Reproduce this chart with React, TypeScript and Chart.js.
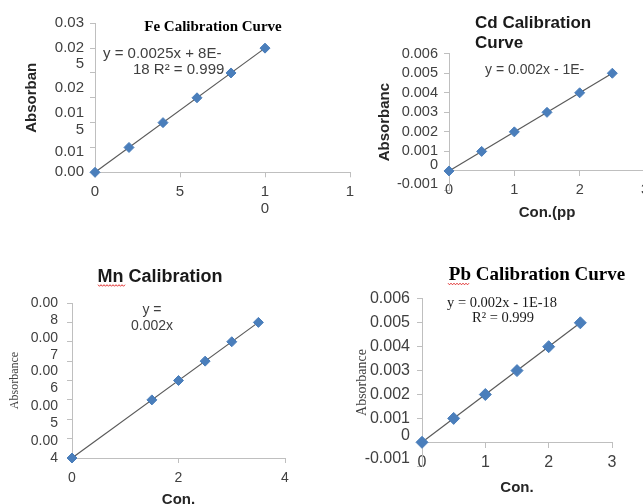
import React, { useEffect, useRef } from 'react';
import { Chart, registerables } from 'chart.js';

Chart.register(...registerables);

// ---------------- data ----------------
// Fe
const feConc = [0, 2, 4, 6, 8, 10];
const feAbs = [0, 0.005, 0.01, 0.015, 0.02, 0.025];
const feTrendX = [0, 10];
const feTrendY = [0, 0.025];
const feYMarks = [0, 0.005, 0.01, 0.015, 0.02, 0.025, 0.03];
const feYLabelAt = [0.03, 0.02342, 0.01697, 0.01023, 0.00409, 0];
const feYLabels: (string | string[])[] = ['0.03', ['0.02', '5'], '0.02', ['0.01', '5'], '0.01', '0.00'];
const feXMarks = [0, 5, 10, 15];
const feXLabels: (string | string[])[] = ['0', '5', ['1', '0'], '1'];

// Cd
const cdConc = [0, 0.5, 1, 1.5, 2, 2.5];
const cdAbs = [0, 0.001, 0.002, 0.003, 0.004, 0.005];
const cdTrendX = [0, 2.5];
const cdTrendY = [0, 0.005];
const cdYMarks = [-0.001, 0, 0.001, 0.002, 0.003, 0.004, 0.005, 0.006];
const cdYLabelAt = [0.006, 0.005, 0.004, 0.003, 0.002, 0.001, 0.00032, -0.00065];
const cdYLabels: (string | string[])[] = ['0.006', '0.005', '0.004', '0.003', '0.002', '0.001', '0', '-0.001'];
const cdXMarks = [0, 1, 2, 3];
const cdXLabels: (string | string[])[] = ['0', '1', '2', '3'];

// Mn
const mnConc = [0, 1.5, 2, 2.5, 3, 3.5];
const mnAbs = [0, 0.003, 0.004, 0.005, 0.006, 0.007];
const mnTrendX = [0, 3.5];
const mnTrendY = [0, 0.007];
const mnYMarks = [0, 0.001, 0.002, 0.003, 0.004, 0.005, 0.006, 0.007, 0.008];
const mnYLabelAt = [0.007535, 0.005729, 0.004026, 0.002219, 0.000413];
const mnYLabels: (string | string[])[] = [['0.00', '8'], ['0.00', '7'], ['0.00', '6'], ['0.00', '5'], ['0.00', '4']];
const mnXMarks = [0, 2, 4];
const mnXLabels: (string | string[])[] = ['0', '2', '4'];

// Pb
const pbConc = [0, 0.5, 1, 1.5, 2, 2.5];
const pbAbs = [0, 0.001, 0.002, 0.003, 0.004, 0.005];
const pbTrendX = [0, 2.5];
const pbTrendY = [0, 0.005];
const pbYMarks = [-0.001, 0, 0.001, 0.002, 0.003, 0.004, 0.005, 0.006];
const pbYLabelAt = [0.006, 0.005, 0.004, 0.003, 0.002, 0.001, 0.000264, -0.0007];
const pbYLabels: (string | string[])[] = ['0.006', '0.005', '0.004', '0.003', '0.002', '0.001', '0', '-0.001'];
const pbXMarks = [0, 1, 2, 3];
const pbXLabels: (string | string[])[] = ['0', '1', '2', '3'];

// ---------------- styles ----------------
const AXIS = '#bfbfbf';
const TICKC = '#404040';
const POINT = '#4a7ebb';
const LINE = '#5a5a5a';
const SANS = '"Liberation Sans", Arial, sans-serif';
const SERIF = '"Liberation Serif", "Times New Roman", serif';
const CW = 660;
const CH = 504;

type TickDef = { value: number; txt: string | string[]; mark: boolean };

function buildTicks(marks: number[], labelAt: number[], labels: (string | string[])[]): TickDef[] {
  const out: TickDef[] = marks.map((v) => ({ value: v, txt: '', mark: true }));
  labelAt.forEach((v, i) => {
    const same = out.find((t) => t.mark && Math.abs(t.value - v) < 1e-12 && t.txt === '');
    if (same) same.txt = labels[i];
    else out.push({ value: v, txt: labels[i], mark: false });
  });
  return out.sort((a, b) => a.value - b.value);
}

function scaleFor(s: any) {
  const list = buildTicks(s.marks, s.labelAt, s.labels);
  const o: any = {
    type: 'linear',
    min: s.min,
    max: s.max,
    afterBuildTicks: (sc: any) => {
      sc.ticks = list.map((t) => ({ ...t }));
    },
    ticks: {
      autoSkip: false,
      maxRotation: 0,
      minRotation: 0,
      padding: s.pad,
      color: TICKC,
      font: { family: SANS, size: s.fs, lineHeight: s.lh },
      callback: (_v: any, i: number, arr: any[]) => arr[i].txt,
    },
    grid: {
      drawOnChartArea: false,
      drawTicks: true,
      tickLength: 5,
      tickWidth: 1,
      tickColor: (c: any) => (c.tick && c.tick.mark ? AXIS : 'rgba(0,0,0,0)'),
    },
    border: { display: true, color: AXIS, width: 1 },
  };
  if (s.position) o.position = s.position;
  if (s.size != null) {
    o.afterFit = s.horizontal
      ? (sc: any) => {
          sc.height = s.size;
        }
      : (sc: any) => {
          sc.width = s.size;
        };
  }
  if (s.title) {
    o.title = {
      display: true,
      text: s.title.text,
      color: s.title.color || '#262626',
      font: s.title.font,
      padding: s.title.padding,
    };
  }
  return o;
}

const panelText = {
  id: 'panelText',
  afterDatasetsDraw(chart: any, _args: any, opts: any) {
    const items = (opts && opts.items) || [];
    const ctx = chart.ctx;
    ctx.save();
    for (const it of items) {
      if (it.squiggle) {
        ctx.strokeStyle = '#e03030';
        ctx.lineWidth = 1;
        ctx.beginPath();
        let up = true;
        for (let x = it.x1; x <= it.x2; x += 1.5) {
          const y = it.y + (up ? -0.8 : 0.8);
          if (x === it.x1) ctx.moveTo(x, y);
          else ctx.lineTo(x, y);
          up = !up;
        }
        ctx.stroke();
        continue;
      }
      ctx.font = it.font;
      ctx.fillStyle = it.color || TICKC;
      ctx.textAlign = it.align || 'left';
      ctx.textBaseline = 'middle';
      ctx.fillText(it.text, it.x, it.y);
    }
    ctx.restore();
  },
};

function makeConfig(p: any): any {
  const pts = p.conc.map((x: number, i: number) => ({ x, y: p.abs[i] }));
  const trend = p.trendX.map((x: number, i: number) => ({ x, y: p.trendY[i] }));
  return {
    type: 'scatter',
    data: {
      datasets: [
        {
          data: pts,
          pointStyle: 'rectRot',
          pointRadius: p.radius,
          pointBackgroundColor: POINT,
          pointBorderColor: POINT,
          pointBorderWidth: 1,
          showLine: false,
          clip: false,
        },
        {
          data: trend,
          showLine: true,
          borderColor: LINE,
          borderWidth: 1.2,
          pointRadius: 0,
          fill: false,
          clip: false,
        },
      ],
    },
    options: {
      responsive: false,
      animation: false,
      devicePixelRatio: 1,
      events: [],
      layout: { padding: p.padding },
      plugins: {
        legend: { display: false },
        title: { display: false },
        tooltip: { enabled: false },
        panelText: { items: p.texts },
      },
      scales: {
        x: scaleFor({ ...p.x, horizontal: true }),
        y: scaleFor({ ...p.y, horizontal: false }),
      },
    },
    plugins: [panelText],
  };
}

const panels: any[] = [
  {
    conc: feConc,
    abs: feAbs,
    trendX: feTrendX,
    trendY: feTrendY,
    radius: 5,
    padding: { left: 15, right: CW - 350, top: 23.3, bottom: 0 },
    x: {
      min: 0, max: 15, marks: feXMarks, labelAt: feXMarks, labels: feXLabels,
      fs: 15, lh: 1.1, pad: 6.5, size: CH - 172.3,
    },
    y: {
      min: 0, max: 0.03, marks: feYMarks, labelAt: feYLabelAt, labels: feYLabels,
      fs: 15, lh: 1.1, pad: 6, size: 80,
      title: { text: 'Absorban', font: { family: SANS, size: 15, weight: 'bold', lineHeight: 1.2 }, padding: { top: 8, bottom: 0 } },
    },
    texts: [
      { text: 'Fe Calibration Curve', x: 213, y: 26.7, font: `bold 15px ${SERIF}`, color: '#000', align: 'center' },
      { text: 'y = 0.0025x + 8E-', x: 103, y: 53.5, font: `15px ${SANS}` },
      { text: '18 R² = 0.999', x: 133, y: 70, font: `15px ${SANS}` },
    ],
  },
  {
    conc: cdConc,
    abs: cdAbs,
    trendX: cdTrendX,
    trendY: cdTrendY,
    radius: 5,
    padding: { left: 370, right: CW - 645, top: 53.7, bottom: CH - 190.5 },
    x: {
      min: 0, max: 3, marks: cdXMarks, labelAt: cdXMarks, labels: cdXLabels,
      fs: 14.5, lh: 1.2, pad: 5, position: { y: 0 },
      title: { text: 'Con.(pp', font: { family: SANS, size: 15, weight: 'bold', lineHeight: 1.2 }, padding: { top: 0.3, bottom: 0 } },
    },
    y: {
      min: -0.001, max: 0.006, marks: cdYMarks, labelAt: cdYLabelAt, labels: cdYLabels,
      fs: 14.5, lh: 1.2, pad: 6, size: 79,
      title: { text: 'Absorbanc', font: { family: SANS, size: 15, weight: 'bold', lineHeight: 1.2 }, padding: { top: 6, bottom: 0 } },
    },
    texts: [
      { text: 'Cd Calibration', x: 475, y: 23, font: `bold 17px ${SANS}`, color: '#1a1a1a' },
      { text: 'Curve', x: 475, y: 43, font: `bold 17px ${SANS}`, color: '#1a1a1a' },
      { text: 'y = 0.002x - 1E-', x: 485, y: 70, font: `14px ${SANS}` },
    ],
  },
  {
    conc: mnConc,
    abs: mnAbs,
    trendX: mnTrendX,
    trendY: mnTrendY,
    radius: 5,
    padding: { left: 4, right: CW - 285, top: 303, bottom: 0 },
    x: {
      min: 0, max: 4, marks: mnXMarks, labelAt: mnXMarks, labels: mnXLabels,
      fs: 14, lh: 1.2, pad: 6.6, size: CH - 458,
      title: { text: 'Con.', font: { family: SANS, size: 15, weight: 'bold', lineHeight: 1.2 }, padding: { top: 0, bottom: -5 } },
    },
    y: {
      min: 0, max: 0.008, marks: mnYMarks, labelAt: mnYLabelAt, labels: mnYLabels,
      fs: 14, lh: 1.2, pad: 9, size: 68,
      title: { text: 'Absorbance', color: '#404040', font: { family: SERIF, size: 12, lineHeight: 1.2 }, padding: { top: 3.8, bottom: 0 } },
    },
    texts: [
      { text: 'Mn Calibration', x: 160, y: 277, font: `bold 18px ${SANS}`, color: '#1a1a1a', align: 'center' },
      { squiggle: true, x1: 98, x2: 125, y: 285.5 },
      { text: 'y =', x: 152, y: 310, font: `14px ${SANS}`, align: 'center' },
      { text: '0.002x', x: 152, y: 326, font: `14px ${SANS}`, align: 'center' },
    ],
  },
  {
    conc: pbConc,
    abs: pbAbs,
    trendX: pbTrendX,
    trendY: pbTrendY,
    radius: 6,
    padding: { left: 350, right: CW - 612, top: 298.9, bottom: CH - 466.2 },
    x: {
      min: 0, max: 3, marks: pbXMarks, labelAt: pbXMarks, labels: pbXLabels,
      fs: 16, lh: 1.2, pad: 6.1, position: { y: 0 },
      title: { text: 'Con.', font: { family: SANS, size: 15, weight: 'bold', lineHeight: 1.2 }, padding: { top: 0.3, bottom: 0 } },
    },
    y: {
      min: -0.001, max: 0.006, marks: pbYMarks, labelAt: pbYLabelAt, labels: pbYLabels,
      fs: 16, lh: 1.2, pad: 7, size: 72,
      title: { text: 'Absorbance', color: '#404040', font: { family: SERIF, size: 14, lineHeight: 1.2 }, padding: { top: 3.6, bottom: 0 } },
    },
    texts: [
      { text: 'Pb Calibration Curve', x: 537, y: 275, font: `bold 19px ${SERIF}`, color: '#000', align: 'center' },
      { squiggle: true, x1: 448, x2: 470, y: 284 },
      { text: 'y = 0.002x - 1E-18', x: 447, y: 303, font: `14.5px ${SERIF}`, color: '#1a1a1a' },
      { text: 'R² = 0.999', x: 472, y: 318, font: `14.5px ${SERIF}`, color: '#1a1a1a' },
    ],
  },
];

function Panel({ spec }: { spec: any }) {
  const ref = useRef<HTMLCanvasElement>(null);
  useEffect(() => {
    if (!ref.current) return;
    const chart = new Chart(ref.current, makeConfig(spec));
    return () => chart.destroy();
  }, [spec]);
  return (
    <canvas
      ref={ref}
      width={CW}
      height={CH}
      style={{ position: 'absolute', left: 0, top: 0, width: CW, height: CH }}
    />
  );
}

export default function App() {
  return (
    <div
      style={{
        position: 'fixed',
        left: 0,
        top: 0,
        width: 643,
        height: 504,
        overflow: 'hidden',
        background: '#ffffff',
      }}
    >
      {panels.map((p, i) => (
        <Panel key={i} spec={p} />
      ))}
    </div>
  );
}
